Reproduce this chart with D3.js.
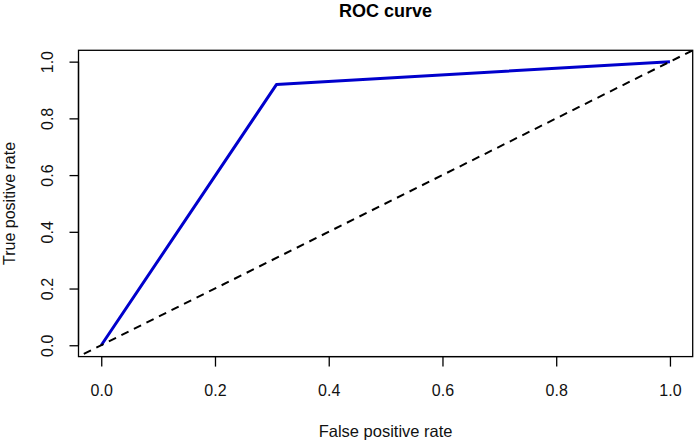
<!DOCTYPE html>
<html><head><meta charset="utf-8">
<script src="https://cdn.jsdelivr.net/npm/d3@7/dist/d3.min.js"></script>
<style>body{margin:0;background:#fff}svg{display:block}text{font-family:"Liberation Sans",Arial,Helvetica,sans-serif}</style>
</head><body>
<script>
const fpr = [0, 0.308, 1];
const tpr = [0, 0.919, 1];
const diagX = [-1, 2];
const diagY = [-1, 2];
const ticks = [0, 0.2, 0.4, 0.6, 0.8, 1.0];
const title = "ROC curve";
const xLabel = "False positive rate";
const yLabel = "True positive rate";

const W = 694, H = 441;
const m = {left: 78.5, right: 694 - 692.7, top: 50.3, bottom: 441 - 356.6};
const svg = d3.select("body").append("svg").attr("width", W).attr("height", H);
const x = d3.scaleLinear().domain([-0.04, 1.04]).range([m.left, W - m.right]);
const y = d3.scaleLinear().domain([-0.04, 1.04]).range([H - m.bottom, m.top]);

svg.append("clipPath").attr("id", "clip").append("rect")
  .attr("x", x(-0.04)).attr("y", y(1.04)).attr("width", x(1.04) - x(-0.04)).attr("height", y(-0.04) - y(1.04));

const g = svg.append("g").attr("clip-path", "url(#clip)");
const line = d3.line().x(d => x(d[0])).y(d => y(d[1]));
g.append("path").datum(fpr.map((v, i) => [v, tpr[i]]))
  .attr("d", line).attr("fill", "none").attr("stroke", "#0000cc").attr("stroke-width", 3).attr("stroke-linejoin", "round");
g.append("path").datum(diagX.map((v, i) => [v, diagY[i]]))
  .attr("d", line).attr("fill", "none").attr("stroke", "#000").attr("stroke-width", 2).attr("stroke-dasharray", "8,6");

// box
svg.append("rect").attr("x", x(-0.04)).attr("y", y(1.04)).attr("width", x(1.04) - x(-0.04)).attr("height", y(-0.04) - y(1.04))
  .attr("fill", "none").attr("stroke", "#000").attr("stroke-width", 1.3);

const fmt = d3.format(".1f");
const xa = svg.append("g").attr("transform", `translate(0,${y(-0.04)})`)
  .call(d3.axisBottom(x).tickValues(ticks).tickFormat(fmt).tickSize(10));
xa.select(".domain").attr("d", `M${x(0)},0H${x(1)}`).attr("stroke-width", 1.3);
xa.selectAll("text").attr("font-size", 16).attr("fill", "#111").attr("font-family", '"Liberation Sans",Arial,sans-serif')
  .attr("y", 396 - y(-0.04)).attr("dy", null);
xa.selectAll("line").attr("stroke-width", 1.3);

const ya = svg.append("g").attr("transform", `translate(${x(-0.04)},0)`)
  .call(d3.axisLeft(y).tickValues(ticks).tickFormat(fmt).tickSize(9));
ya.select(".domain").attr("d", `M0,${y(0)}V${y(1)}`).attr("stroke-width", 1.3);
ya.selectAll("line").attr("stroke-width", 1.3);
ya.selectAll("text").attr("font-size", 16).attr("fill", "#111").attr("font-family", '"Liberation Sans",Arial,sans-serif')
  .attr("x", null).attr("dy", null).attr("text-anchor", "middle")
  .attr("transform", `translate(${53.3 - x(-0.04)},0) rotate(-90)`);

svg.append("text").attr("x", (x(-0.04) + x(1.04)) / 2).attr("y", 17).attr("text-anchor", "middle")
  .attr("font-size", 18).attr("font-weight", "bold").text(title);
svg.append("text").attr("x", (x(-0.04) + x(1.04)) / 2).attr("y", 437).attr("text-anchor", "middle")
  .attr("font-size", 16.5).attr("fill", "#111").text(xLabel);
svg.append("text").attr("transform", `translate(15,${(y(-0.04) + y(1.04)) / 2}) rotate(-90)`).attr("text-anchor", "middle")
  .attr("font-size", 16).attr("fill", "#111").text(yLabel);
</script>
</body></html>
